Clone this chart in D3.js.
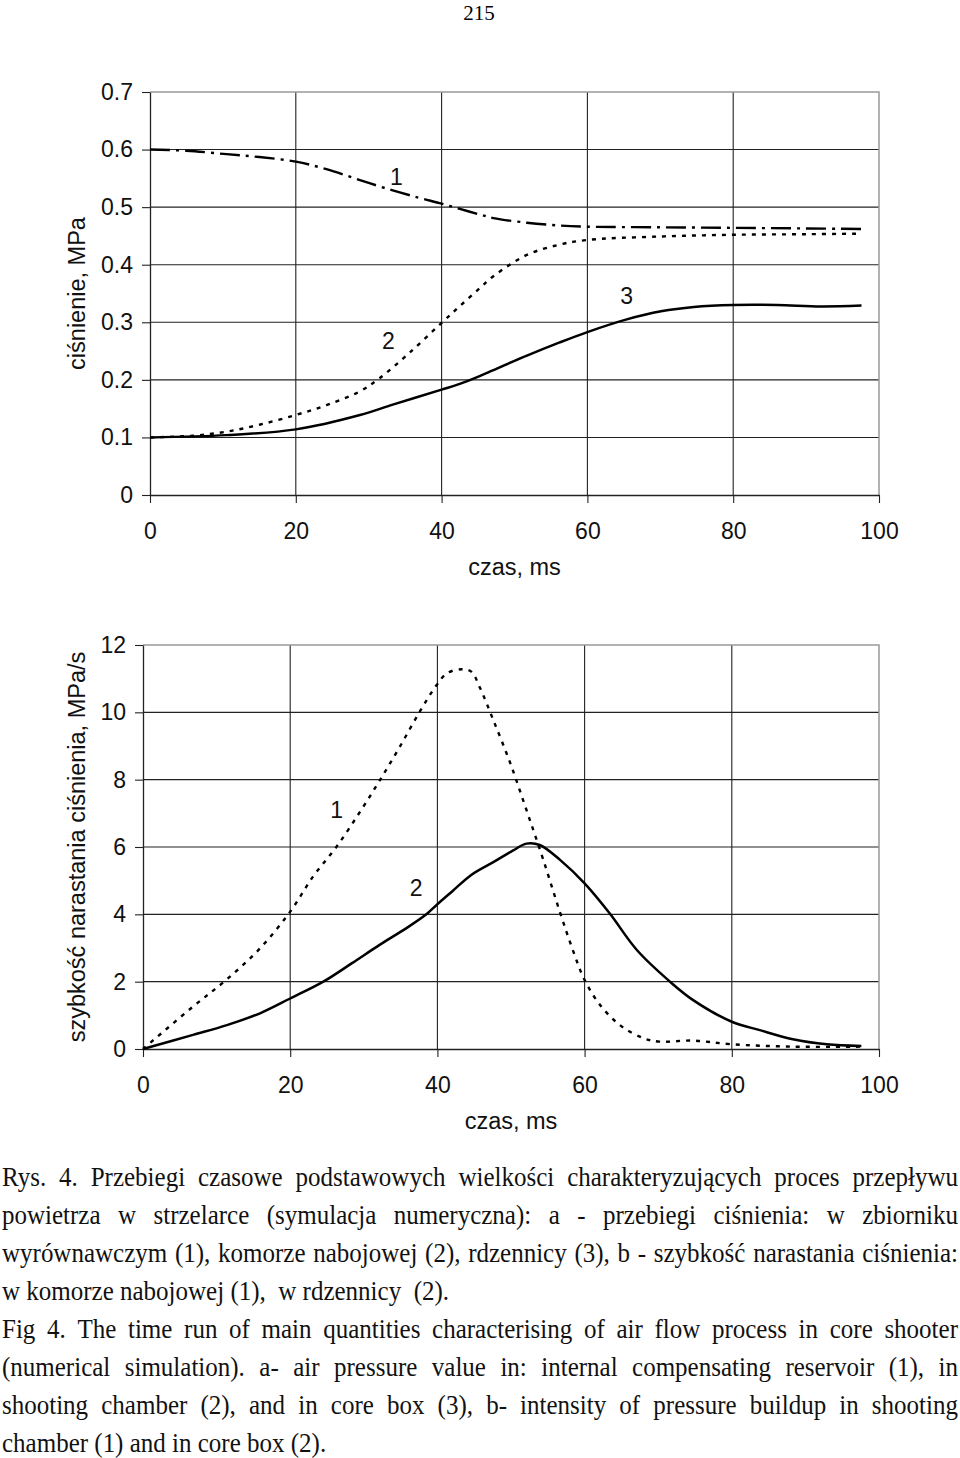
<!DOCTYPE html>
<html><head><meta charset="utf-8">
<script src="https://cdn.jsdelivr.net/npm/d3@7"></script>
<style>body{margin:0;background:#fff} svg{display:block}</style>
</head><body><svg id="c" width="960" height="1458"></svg>
<script>
// ---------- data ----------
const timeTicks = [0, 20, 40, 60, 80, 100];
const pressureTicks = [0, 0.1, 0.2, 0.3, 0.4, 0.5, 0.6, 0.7];
const rateTicks = [0, 2, 4, 6, 8, 10, 12];

// (a) pressure, MPa
const reservoirT = [0, 5, 10.5, 15, 20, 24.2, 28.8, 33.3, 37, 40, 42.5, 45.3, 47.1, 51.7, 56.2, 60, 70, 80, 90, 97.6];
const reservoirV = [0.600, 0.598, 0.592, 0.587, 0.579, 0.566, 0.547, 0.529, 0.516, 0.506, 0.497, 0.487, 0.481, 0.473, 0.468, 0.466, 0.465, 0.464, 0.463, 0.462];
const chamberT = [0, 5.9, 10.5, 15, 20, 24.2, 28.8, 31.5, 35.6, 40, 42.5, 45.3, 47.1, 51.7, 56.2, 60, 70, 80, 90, 97.6];
const chamberV = [0.100, 0.103, 0.110, 0.122, 0.139, 0.156, 0.180, 0.203, 0.247, 0.299, 0.328, 0.360, 0.380, 0.417, 0.435, 0.443, 0.449, 0.452, 0.453, 0.454];
const coreT = [0, 10.5, 20, 28.8, 33.3, 40, 42.5, 45.3, 47.1, 51.7, 56.2, 60, 65.4, 70.1, 74.6, 80, 86, 92, 97.6];
const coreV = [0.100, 0.104, 0.114, 0.139, 0.157, 0.183, 0.193, 0.207, 0.217, 0.242, 0.265, 0.283, 0.305, 0.319, 0.3265, 0.330, 0.330, 0.3275, 0.329];

// (b) rate of pressure rise, MPa/s
const chamberRateT = [0, 6.8, 11.4, 15.9, 20, 23.1, 26.3, 29.5, 32.2, 34.9, 37.6, 39.9, 41.3, 43.3, 44.6, 45.8, 47.6, 49.9, 52.1, 54.4, 56.7, 58.4, 60, 62.1, 64.8, 68, 70.2, 74.7, 80, 88.3, 97.6];
const chamberRateV = [0, 1.26, 2.07, 2.99, 4.08, 5.12, 6.01, 7.05, 7.99, 8.98, 10.02, 10.81, 11.16, 11.28, 11.21, 10.72, 9.77, 8.49, 7.10, 5.61, 4.03, 2.94, 2.05, 1.31, 0.71, 0.32, 0.22, 0.25, 0.14, 0.07, 0.07];
const coreRateT = [0, 6.8, 11.4, 15.9, 20, 24.5, 28.4, 32.2, 36, 38.5, 40, 42, 44.6, 47.6, 50.3, 52.1, 53.9, 56.7, 60, 63.4, 67.1, 71.6, 74.7, 80, 83.8, 88.3, 92.9, 97.6];
const coreRateV = [0, 0.42, 0.71, 1.06, 1.50, 2.0, 2.55, 3.10, 3.62, 4.0, 4.30, 4.68, 5.17, 5.55, 5.90, 6.10, 6.06, 5.61, 4.92, 4.03, 2.94, 2.0, 1.46, 0.81, 0.56, 0.29, 0.14, 0.09];

const labelsA = [{t: 33.8, v: 0.553, s: "1"}, {t: 32.7, v: 0.267, s: "2"}, {t: 65.4, v: 0.345, s: "3"}];
const labelsB = [{t: 26.3, v: 7.1, s: "1"}, {t: 37.1, v: 4.78, s: "2"}];

const captionPL = [
  "Rys. 4. Przebiegi czasowe podstawowych wielkości charakteryzujących proces przepływu",
  "powietrza w strzelarce (symulacja numeryczna): a - przebiegi ciśnienia: w zbiorniku",
  "wyrównawczym (1), komorze nabojowej (2), rdzennicy (3), b - szybkość narastania ciśnienia:",
  "w komorze nabojowej (1),  w rdzennicy  (2)."
];
const captionEN = [
  "Fig 4. The time run of main quantities characterising of air flow process in core shooter",
  "(numerical simulation). a- air pressure value in: internal compensating reservoir (1), in",
  "shooting chamber (2), and in core box (3), b- intensity of pressure buildup in shooting",
  "chamber (1) and in core box (2)."
];

// ---------- drawing ----------
const svg = d3.select("#c");
const SANS = "'Liberation Sans', Arial, sans-serif";
const SERIF = "'Liberation Serif', 'Times New Roman', serif";
const zip = (T, V) => T.map((t, i) => ({t, v: V[i]}));

svg.append("text").attr("x", 479).attr("y", 20).attr("text-anchor", "middle")
  .attr("font-family", SERIF).attr("font-size", 21).text("215");

function panel(o) {
  const x = d3.scaleLinear().domain([0, 100]).range([o.x0, o.x1]);
  const y = d3.scaleLinear().domain([0, o.ymax]).range([o.y0, o.y1]);
  const g = svg.append("g");
  g.append("g").selectAll("line").data(o.yTicks.slice(1, -1)).join("line")
    .attr("x1", o.x0).attr("x2", o.x1).attr("y1", d => y(d)).attr("y2", d => y(d))
    .attr("stroke", "#222").attr("stroke-width", 1.1);
  g.append("g").selectAll("line").data(timeTicks.slice(1, -1)).join("line")
    .attr("x1", d => x(d)).attr("x2", d => x(d)).attr("y1", o.y0).attr("y2", o.y1)
    .attr("stroke", "#222").attr("stroke-width", 1.1);
  g.append("path").attr("d", `M${o.x0},${o.y1}H${o.x1}V${o.y0}`)
    .attr("fill", "none").attr("stroke", "#999").attr("stroke-width", 1.5);
  const ax = g.append("g").attr("transform", `translate(0,${o.y0})`)
    .call(d3.axisBottom(x).tickValues(timeTicks).tickSize(8).tickPadding(20).tickSizeOuter(0));
  const ay = g.append("g").attr("transform", `translate(${o.x0},0)`)
    .call(d3.axisLeft(y).tickValues(o.yTicks).tickSize(8).tickPadding(9).tickSizeOuter(0).tickFormat(o.fmt));
  [ax, ay].forEach(a => {
    a.selectAll("path.domain").attr("stroke", "#222").attr("stroke-width", 1.3);
    a.selectAll(".tick line").attr("stroke", "#222").attr("stroke-width", 1.1);
    a.selectAll("text").attr("font-family", SANS).attr("font-size", 23).attr("fill", "#111");
  });
  g.append("text").attr("x", (o.x0 + o.x1) / 2).attr("y", o.y0 + 80).attr("text-anchor", "middle")
    .attr("font-family", SANS).attr("font-size", 23.5).attr("fill", "#111").text("czas, ms");
  g.append("text").attr("transform", `translate(85,${(o.y0 + o.y1) / 2}) rotate(-90)`)
    .attr("text-anchor", "middle").attr("font-family", SANS).attr("font-size", 23.5).attr("fill", "#111")
    .text(o.ytitle);
  const line = d3.line().x(d => x(d.t)).y(d => y(d.v)).curve(d3.curveCatmullRom.alpha(0.5));
  o.series.forEach(s => {
    g.append("path").datum(s.data).attr("d", line).attr("fill", "none")
      .attr("stroke", "#000").attr("stroke-width", s.w).attr("stroke-dasharray", s.dash || null);
  });
  g.selectAll("text.lab").data(o.labels).join("text").attr("class", "lab")
    .attr("x", d => x(d.t)).attr("y", d => y(d.v)).attr("dy", "0.35em").attr("text-anchor", "middle")
    .attr("font-family", SANS).attr("font-size", 23).attr("fill", "#111").text(d => d.s);
}

panel({
  x0: 150, x1: 879, y0: 495, y1: 92, ymax: 0.7, yTicks: pressureTicks,
  fmt: d => d === 0 ? "0" : d3.format(".1f")(d), ytitle: "ciśnienie, MPa",
  series: [
    {data: zip(reservoirT, reservoirV), w: 2.4, dash: "20,6,3,6"},
    {data: zip(chamberT, chamberV), w: 2.4, dash: "4,6"},
    {data: zip(coreT, coreV), w: 2.5}
  ],
  labels: labelsA
});

panel({
  x0: 143, x1: 879, y0: 1049, y1: 645, ymax: 12, yTicks: rateTicks,
  fmt: d3.format("d"), ytitle: "szybkość narastania ciśnienia, MPa/s",
  series: [
    {data: zip(chamberRateT, chamberRateV), w: 2.4, dash: "4,6"},
    {data: zip(coreRateT, coreRateV), w: 2.5}
  ],
  labels: labelsB
});

// caption, justified lines (slightly condensed serif)
const CAP_SIZE = 27, CAP_SX = 0.926, CAP_X0 = 2, CAP_X1 = 958, CAP_Y0 = 1186, CAP_DY = 38;
const cap = svg.append("g").attr("transform", `translate(${CAP_X0},0) scale(${CAP_SX},1)`)
  .attr("font-family", SERIF).attr("font-size", CAP_SIZE).attr("fill", "#111");
const CAP_W = (CAP_X1 - CAP_X0) / CAP_SX;
function capLine(str, yy, justify) {
  if (!justify) {
    cap.append("text").attr("x", 0).attr("y", yy).attr("xml:space", "preserve")
      .style("white-space", "pre").text(str);
    return;
  }
  const words = str.split(/\s+/);
  const nodes = words.map(w => cap.append("text").attr("y", yy).text(w));
  const widths = nodes.map(n => n.node().getComputedTextLength());
  const gap = (CAP_W - d3.sum(widths)) / (words.length - 1);
  let cx = 0;
  nodes.forEach((n, i) => { n.attr("x", cx); cx += widths[i] + gap; });
}
captionPL.concat(captionEN).forEach((s, i) => {
  capLine(s, CAP_Y0 + i * CAP_DY, !(i === 3 || i === 7));
});
</script></body></html>
